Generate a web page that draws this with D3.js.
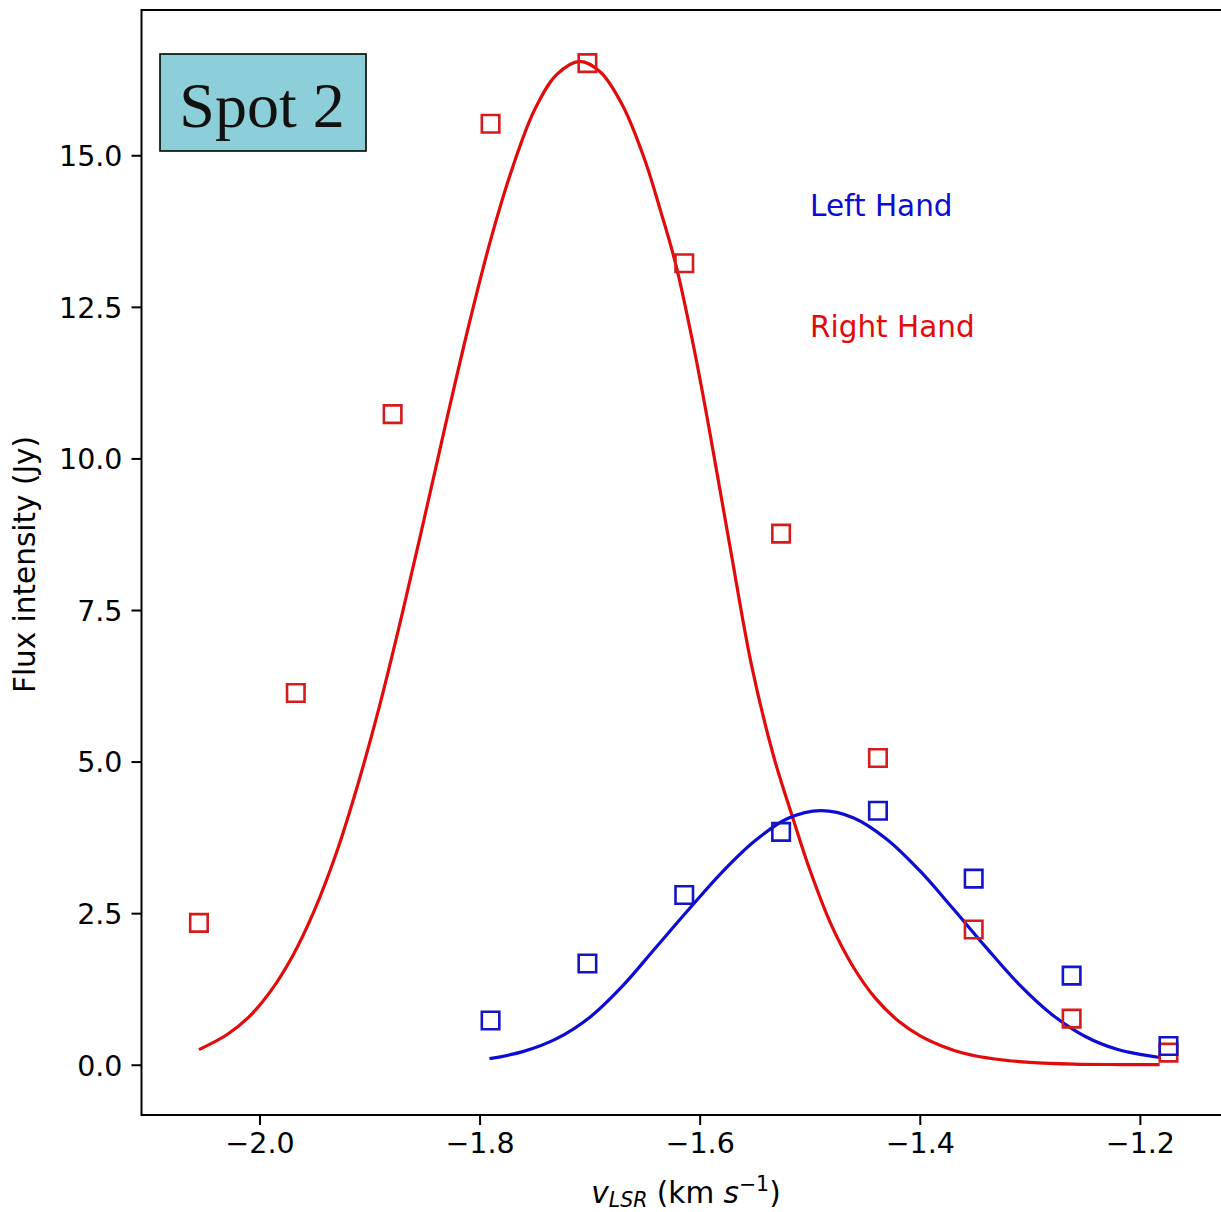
<!DOCTYPE html>
<html>
<head>
<meta charset="utf-8">
<script src="https://cdn.jsdelivr.net/npm/d3@7"></script>
<style>
  body { margin: 0; background: #fff; }
  svg { display: block; }
  text { font-family: "DejaVu Sans", sans-serif; }
</style>
</head>
<body>
<div id="chart"></div>
<script>
// measured points (velocity in km/s, flux in Jy)
var velocity = [-2.055, -1.967, -1.879, -1.790, -1.702, -1.614, -1.526, -1.438, -1.351, -1.262, -1.174];
var rightHand = [2.34, 6.13, 10.73, 15.52, 16.52, 13.22, 8.76, 5.06, 2.23, 0.76, 0.20];

var leftVelocity = [-1.790, -1.702, -1.614, -1.526, -1.438, -1.351, -1.262, -1.174];
var leftHand = [0.73, 1.67, 2.80, 3.84, 4.19, 3.07, 1.47, 0.31];

// fitted profiles
var rightFitV = [-2.055, -2.03, -2.01, -1.99, -1.97, -1.95, -1.93, -1.91, -1.89, -1.87, -1.85, -1.83, -1.81,
                 -1.79, -1.77, -1.75, -1.73, -1.709, -1.69, -1.67, -1.65, -1.635, -1.622, -1.605, -1.59,
                 -1.572, -1.553, -1.533, -1.515, -1.50, -1.48, -1.46, -1.44, -1.42, -1.40, -1.38, -1.36,
                 -1.33, -1.30, -1.26, -1.22, -1.182];
var rightFit = [0.25, 0.49, 0.78, 1.21, 1.79, 2.55, 3.50, 4.66, 5.98, 7.46, 9.03, 10.63, 12.18,
                13.60, 14.80, 15.75, 16.33, 16.55, 16.37, 15.82, 14.93, 14.05, 13.22, 11.80, 10.35,
                8.50, 6.60, 5.10, 4.05, 3.22, 2.29, 1.60, 1.09, 0.73, 0.48, 0.31, 0.19,
                0.09, 0.04, 0.011, 0.003, 0.001];

var leftFitV = [-1.791, -1.76, -1.73, -1.70, -1.67, -1.64, -1.61, -1.58, -1.55, -1.52, -1.49,
                -1.46, -1.43, -1.40, -1.37, -1.34, -1.31, -1.28, -1.25, -1.22, -1.182];
var leftFit = [0.10, 0.22, 0.43, 0.78, 1.30, 1.93, 2.56, 3.17, 3.69, 4.06, 4.19,
               4.07, 3.72, 3.20, 2.58, 1.94, 1.33, 0.83, 0.47, 0.25, 0.12];

var xTicks = [-2.0, -1.8, -1.6, -1.4, -1.2];
var yTicks = [0, 2.5, 5, 7.5, 10, 12.5, 15];

var RED = "#e20b0b", RED_MK = "#d41c1c", BLUE = "#0c0cd2", BLUE_MK = "#1515c4";

var W = 1221, H = 1212;
var plotL = 141.5, plotR = 1230, plotT = 10, plotB = 1115;

var svg = d3.select("#chart").append("svg")
    .attr("width", W)
    .attr("height", H);

var x = d3.scaleLinear().domain([-2.1072, -1.1181]).range([plotL, plotR]);
var y = d3.scaleLinear().domain([-0.829, 17.396]).range([plotB, plotT]);

// axes
var xAxis = d3.axisBottom(x).tickValues(xTicks).tickFormat(d3.format(".1f"))
    .tickSizeInner(10).tickSizeOuter(0).tickPadding(8);
var yAxis = d3.axisLeft(y).tickValues(yTicks).tickFormat(d3.format(".1f"))
    .tickSizeInner(10).tickSizeOuter(0).tickPadding(9);

var gx = svg.append("g").attr("transform", "translate(0," + plotB + ")").call(xAxis);
var gy = svg.append("g").attr("transform", "translate(" + plotL + ",0)").call(yAxis);

[gx, gy].forEach(function(g) {
  g.selectAll(".domain").remove();
  g.selectAll(".tick line").attr("stroke", "#000").attr("stroke-width", 2);
  g.selectAll(".tick text").attr("fill", "#000").style("font-size", "28.5px")
    .style("font-family", "'DejaVu Sans', sans-serif");
});
gy.selectAll(".tick text").attr("dy", "0.36em");

// spines
svg.append("rect")
    .attr("x", plotL).attr("y", plotT)
    .attr("width", plotR - plotL).attr("height", plotB - plotT)
    .attr("fill", "none").attr("stroke", "#000").attr("stroke-width", 2);

// fitted curves
var line = d3.line()
    .x(function(d) { return x(d[0]); })
    .y(function(d) { return y(d[1]); })
    .curve(d3.curveCatmullRom.alpha(0.5));

svg.append("path")
    .datum(d3.zip(rightFitV, rightFit))
    .attr("d", line)
    .attr("fill", "none").attr("stroke", RED).attr("stroke-width", 3.2);

svg.append("path")
    .datum(d3.zip(leftFitV, leftFit))
    .attr("d", line)
    .attr("fill", "none").attr("stroke", BLUE).attr("stroke-width", 3.2);

// markers
var sq = d3.symbol().type(d3.symbolSquare).size(17.5 * 17.5);

svg.append("g").selectAll("path")
    .data(d3.zip(velocity, rightHand))
    .enter().append("path")
    .attr("d", sq)
    .attr("transform", function(d) { return "translate(" + x(d[0]) + "," + y(d[1]) + ")"; })
    .attr("fill", "none").attr("stroke", RED_MK).attr("stroke-width", 2.6);

svg.append("g").selectAll("path")
    .data(d3.zip(leftVelocity, leftHand))
    .enter().append("path")
    .attr("d", sq)
    .attr("transform", function(d) { return "translate(" + x(d[0]) + "," + y(d[1]) + ")"; })
    .attr("fill", "none").attr("stroke", BLUE_MK).attr("stroke-width", 2.6);

// labels
svg.append("text")
    .attr("x", 810).attr("y", 216)
    .attr("fill", BLUE).style("font-size", "29.5px")
    .text("Left Hand");

svg.append("text")
    .attr("x", 810).attr("y", 337)
    .attr("fill", RED).style("font-size", "29.5px")
    .text("Right Hand");

svg.append("text")
    .attr("transform", "translate(35," + ((plotT + plotB) / 2 + 2) + ") rotate(-90)")
    .attr("text-anchor", "middle")
    .style("font-size", "29.5px")
    .text("Flux intensity (Jy)");

var xl = svg.append("text")
    .attr("x", 686).attr("y", 1203)
    .attr("text-anchor", "middle")
    .style("font-size", "29.5px");
xl.append("tspan").style("font-style", "italic").text("v");
xl.append("tspan").style("font-style", "italic").style("font-size", "20.5px").attr("dy", 4).text("LSR");
xl.append("tspan").attr("dy", -4).text(" (km ");
xl.append("tspan").style("font-style", "italic").text("s");
xl.append("tspan").style("font-size", "20.5px").attr("dy", -12).text("\u22121");
xl.append("tspan").attr("dy", 12).text(")");

// "Spot 2" box
svg.append("rect")
    .attr("x", 160).attr("y", 54).attr("width", 206).attr("height", 97)
    .attr("fill", "#8ccfd8").attr("stroke", "#000").attr("stroke-width", 1.6);

svg.append("text")
    .attr("x", 262).attr("y", 127)
    .attr("text-anchor", "middle")
    .style("font-family", "'Liberation Serif', 'Times New Roman', serif")
    .style("font-size", "64px")
    .attr("fill", "#111")
    .text("Spot 2");
</script>
</body>
</html>
